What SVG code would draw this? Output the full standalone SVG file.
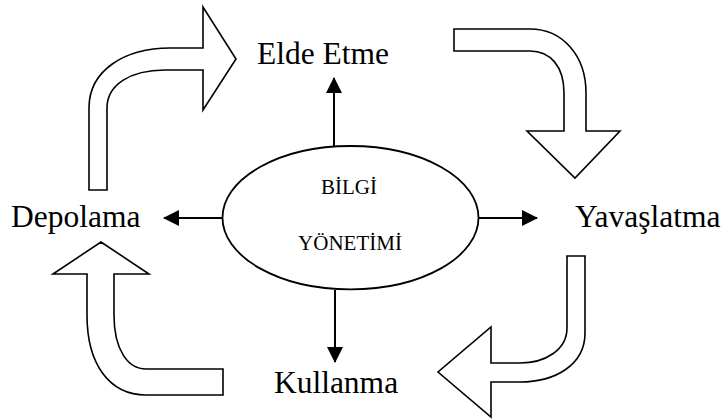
<svg xmlns="http://www.w3.org/2000/svg" width="725" height="420" viewBox="0 0 725 420">
<style>
text{font-family:'Liberation Serif','DejaVu Serif',serif;fill:#000}
.lbl{font-size:31.5px}
.in{font-size:21px;text-anchor:middle}
.blk{fill:#fff;stroke:#000;stroke-width:1.6;stroke-linejoin:miter}
.con{stroke:#000;stroke-width:2;fill:none}
</style>
<defs>
<marker id="ah" viewBox="0 0 16 16" refX="15" refY="8" markerWidth="16" markerHeight="16" markerUnits="userSpaceOnUse" orient="auto">
<path d="M0,0 L16,8 L0,16 Z" fill="#000"/>
</marker>
</defs>
<rect width="725" height="420" fill="#fff"/>
<g id="cycle-arrows">
<path id="arrow-top-left" class="blk" d="M89,190 V108 C89,70 125,48 170,48 H203 V7 L236,59 L203,110 V70 H165 C130,70 107,85 107,108 V190 Z"/>
<path id="arrow-top-right" class="blk" d="M454,29 H530 C562,29 586,55 586,93 V131 H620 L575,178 L527,131 H564 V93 C564,66 550,51 530,51 H454 Z"/>
<path id="arrow-bottom-right" class="blk" d="M567,256 H585 V333 C585,365 555,382 520,382 H491 V417 L438,372 L491,327 V363 H520 C545,363 567,350 567,328 Z"/>
<path id="arrow-bottom-left" class="blk" d="M101,242 L149,274 H114 V315 C114,350 128,369 146,369 H223 V395 H146 C110,395 87,365 87,315 V274 H53 Z"/>
</g>
<g id="connectors">
<line class="con" x1="334" y1="146" x2="334" y2="78" marker-end="url(#ah)"/>
<line class="con" x1="335" y1="290" x2="335" y2="362" marker-end="url(#ah)"/>
<line class="con" x1="223" y1="218" x2="164" y2="218" marker-end="url(#ah)"/>
<line class="con" x1="478" y1="218" x2="537" y2="218" marker-end="url(#ah)"/>
</g>
<g id="center">
<ellipse cx="350.5" cy="217.7" rx="128" ry="71.7" fill="#fff" stroke="#000" stroke-width="1.8"/>
<text class="in" x="349" y="194" font-family="Liberation Serif, serif">BİLGİ</text>
<text class="in" x="350" y="250" font-family="Liberation Serif, serif">YÖNETİMİ</text>
</g>
<g id="node-elde"><text class="lbl" x="323" y="64" text-anchor="middle" font-family="Liberation Serif, serif">Elde Etme</text></g>
<g id="node-yavas"><text class="lbl" x="575" y="227" font-family="Liberation Serif, serif">Yavaşlatma</text></g>
<g id="node-kullanma"><text class="lbl" x="336" y="393" text-anchor="middle" font-family="Liberation Serif, serif">Kullanma</text></g>
<g id="node-depolama"><text class="lbl" x="11" y="227" font-family="Liberation Serif, serif">Depolama</text></g>
</svg>
